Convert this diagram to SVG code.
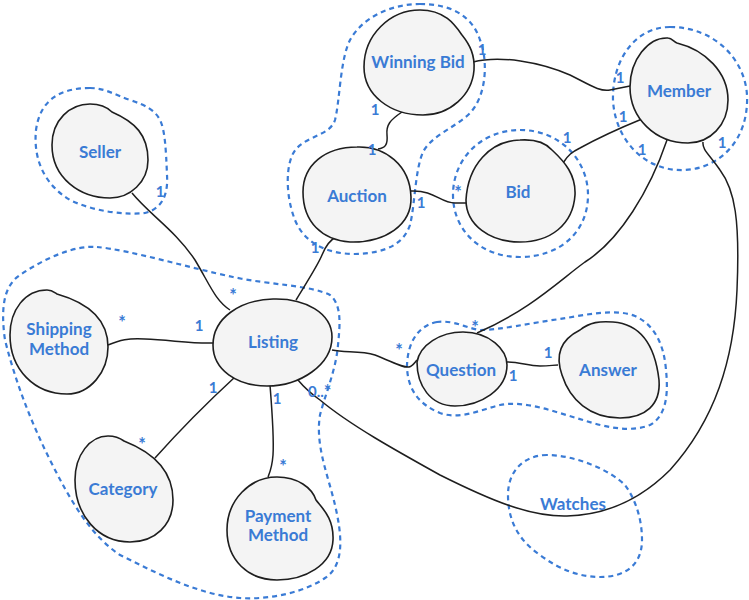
<svg xmlns="http://www.w3.org/2000/svg" width="749" height="600" viewBox="0 0 749 600">
<style>
.blob{fill:#f4f4f4;stroke:#1e1e1e;stroke-width:1.6}
.grp{fill:none;stroke:#3a7bd5;stroke-width:2.2;stroke-dasharray:5 4}
.con{fill:none;stroke:#1e1e1e;stroke-width:1.5}
.lbl{font-family:Lato,"Open Sans",sans-serif;font-weight:bold;font-size:17px;fill:#3a7bd5;text-anchor:middle}
.m{font-family:Lato,"Open Sans",sans-serif;font-weight:bold;font-size:15px;fill:#3a7bd5;text-anchor:middle}
.s{font-family:Lato,"Open Sans",sans-serif;font-weight:bold;font-size:18px;fill:#3a7bd5;text-anchor:middle}
</style>
<rect width="749" height="600" fill="#fff"/>
<g id="groups">
<path class="grp" d="M90,88 C60,88 40,100 36,130 C33,160 45,185 70,200 C95,212 125,215 145,213 C165,208 168,190 167,175 C166,150 165,130 160,120 C155,110 145,105 130,100 C115,95 105,88 90,88 Z"/>
<path class="grp" d="M420,4 C450,4 472,15 480,40 C488,60 487,95 470,113 C455,128 432,135 423,152 C415,170 415,205 410,225 C403,245 385,253 355,254 C330,254 305,245 295,220 C285,195 285,160 297,148 C310,135 330,135 335,120 C340,100 340,60 350,40 C362,18 390,4 420,4 Z"/>
<path class="grp" d="M520,130 C560,130 588,160 588,195 C588,232 560,257 520,257 C480,257 453,230 453,195 C453,158 482,130 520,130 Z"/>
<path class="grp" d="M670,27 C715,27 745,60 747,95 C749,140 720,168 685,170 C645,172 615,140 613,100 C612,60 635,27 670,27 Z"/>
<path class="grp" d="M97,247 C130,250 190,268 233,277 C270,285 310,285 330,295 C342,305 340,325 338,345 C336,370 325,395 320,415 C315,445 328,475 335,505 C342,535 345,565 325,578 C305,592 270,600 240,598 C200,595 160,575 120,555 C90,535 70,500 50,460 C30,420 15,380 5,340 C0,305 5,285 20,275 C45,258 75,245 97,247 Z"/>
<path class="grp" d="M437,322 C420,325 408,340 407,365 C407,390 420,405 440,413 C460,420 480,410 500,405 C525,400 555,412 583,420 C605,427 630,433 650,425 C668,415 668,390 666,370 C664,345 655,325 635,316 C615,308 585,315 560,319 C530,323 500,330 480,330 C465,328 455,320 437,322 Z"/>
<path class="grp" d="M547,455 C525,455 508,470 508,495 C508,520 518,540 540,555 C560,570 580,577 600,577 C625,577 642,565 642,540 C642,520 636,500 625,485 C610,470 575,455 547,455 Z"/>
</g>
<g id="connectors">
<path class="con" d="M132,193 C150,215 175,230 195,260 C210,285 215,300 230,310"/>
<path class="con" d="M296,300 C305,285 318,265 322,255 C326,245 330,240 336,237"/>
<path class="con" d="M402,112 C390,120 386,125 387,135 C388,145 385,148 378,149"/>
<path class="con" d="M411,191 C435,190 440,203 455,203 L466,203"/>
<path class="con" d="M473,62 C500,55 540,62 570,75 C590,85 600,92 610,90 L630,86"/>
<path class="con" d="M563,163 C568,155 572,152 580,148 C600,137 620,128 642,119"/>
<path class="con" d="M667,140 C650,190 620,240 585,262 C560,280 530,310 477,333"/>
<path class="con" d="M703,142 C702,150 710,155 720,170 C735,190 740,220 737,290 C734,360 715,420 670,470 C640,500 605,515 567,516 C530,517 490,500 440,475 C395,450 350,425 320,400 C310,393 303,386 298,380"/>
<path class="con" d="M332,350 C345,353 360,350 375,355 C395,363 403,368 409,367 C413,366 415,362 417,360"/>
<path class="con" d="M507,362 C520,362 528,366 540,366 C550,366 553,365 558,365"/>
<path class="con" d="M108,345 C120,340 128,338 145,339 C170,340 195,344 213,343"/>
<path class="con" d="M235,377 C210,400 180,430 155,458"/>
<path class="con" d="M270,385 C272,410 274,440 273,455 C272,468 270,472 268,477"/>
</g>
<g id="winning-bid"><path class="blob" d="M420,10 C445,10 455,25 462,35 C470,45 475,55 474,70 C472,95 450,115 423,115 C390,115 364,95 364,67 C364,35 390,10 420,10 Z"/><text class="lbl" x="418" y="68">Winning Bid</text></g>
<g id="member"><path class="blob" d="M630,87 C630,60 648,37 668,38 C672,38 674,42 677,43 C705,50 728,72 728,100 C728,125 710,143 688,143 C655,143 630,118 630,87 Z"/><text class="lbl" x="679" y="97">Member</text></g>
<g id="seller"><path class="blob" d="M90,104 C100,104 108,108 112,112 C135,122 148,135 148,160 C148,182 130,198 110,198 C80,198 52,178 52,145 C52,120 70,104 90,104 Z"/><text class="lbl" x="100" y="158">Seller</text></g>
<g id="auction"><path class="blob" d="M357,147 C385,146 410,165 411,197 C412,225 385,243 350,242 C322,240 303,222 303,192 C303,165 325,147 357,147 Z"/><text class="lbl" x="357" y="202">Auction</text></g>
<g id="bid"><path class="blob" d="M520,140 C535,139 545,142 552,150 C565,162 576,175 575,195 C573,225 550,242 520,242 C490,242 466,225 466,200 C468,165 490,141 520,140 Z"/><text class="lbl" x="518" y="198">Bid</text></g>
<g id="listing"><path class="blob" d="M273,299 C305,298 332,313 332,337 C332,365 300,386 267,386 C237,386 213,370 213,345 C213,318 240,300 273,299 Z"/><text class="lbl" x="273" y="348">Listing</text></g>
<g id="shipping-method"><path class="blob" d="M47,290 C52,290 54,292 57,294 C85,302 108,318 108,347 C108,372 90,394 67,394 C35,394 10,370 10,335 C10,310 25,290 47,290 Z"/><text class="lbl" x="59" y="335">Shipping</text><text class="lbl" x="59" y="355">Method</text></g>
<g id="category"><path class="blob" d="M108,436 C115,436 120,438 124,441 C152,452 173,470 173,500 C173,525 155,542 130,542 C98,542 75,515 75,480 C75,455 90,436 108,436 Z"/><text class="lbl" x="123" y="495">Category</text></g>
<g id="payment-method"><path class="blob" d="M277,477 C298,477 312,488 316,500 C322,508 334,518 333,540 C332,565 305,580 277,580 C248,580 227,560 227,530 C227,500 250,477 277,477 Z"/><text class="lbl" x="278" y="522">Payment</text><text class="lbl" x="278" y="541">Method</text></g>
<g id="question"><path class="blob" d="M463,332 C490,332 507,350 507,365 C507,390 480,406 455,406 C430,406 417,385 417,362 C420,345 440,332 463,332 Z"/><text class="lbl" x="461" y="376">Question</text></g>
<g id="answer"><path class="blob" d="M580,330 C590,322 600,321 613,322 C640,324 655,345 659,380 C661,405 645,418 620,418 C590,418 570,400 562,375 C555,355 560,340 580,330 Z"/><text class="lbl" x="608" y="376">Answer</text></g>
<g id="watches"><text class="lbl" x="573" y="510">Watches</text></g>
<g id="multiplicities">
<text class="m" x="482" y="55">1</text>
<text class="m" x="375" y="115">1</text>
<text class="m" x="372" y="155">1</text>
<text class="m" x="421" y="208">1</text>
<text class="s" x="458" y="199">*</text>
<text class="m" x="620" y="83">1</text>
<text class="m" x="623" y="122">1</text>
<text class="m" x="567" y="143">1</text>
<text class="m" x="642" y="155">1</text>
<text class="m" x="722" y="148">1</text>
<text class="m" x="160" y="197">1</text>
<text class="m" x="315" y="253">1</text>
<text class="s" x="233" y="302">*</text>
<text class="s" x="122" y="329">*</text>
<text class="m" x="199" y="331">1</text>
<text class="m" x="213" y="393">1</text>
<text class="s" x="142" y="451">*</text>
<text class="m" x="277" y="404">1</text>
<text class="s" x="283" y="473">*</text>
<text class="m" x="308" y="397" style="text-anchor:start">0..<tspan style="font-size:18px" dy="1">*</tspan></text>
<text class="s" x="399" y="357">*</text>
<text class="s" x="475" y="334">*</text>
<text class="m" x="548" y="358">1</text>
<text class="m" x="513" y="381">1</text>
</g>
</svg>
